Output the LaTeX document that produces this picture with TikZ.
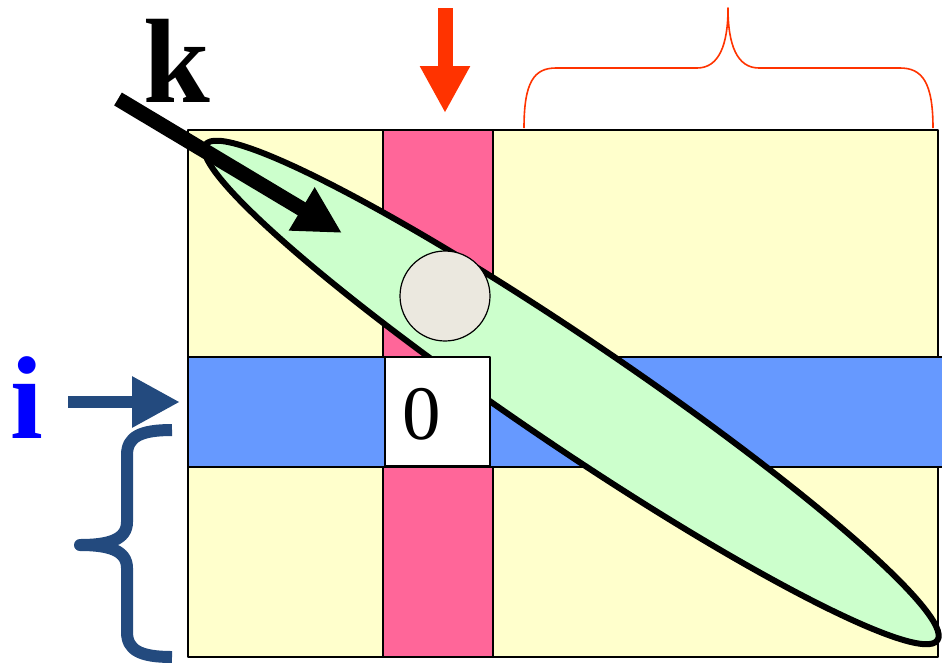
\documentclass[tikz,border=0pt]{standalone}
\usepackage{fontspec}
\setmainfont{Liberation Serif}
\usetikzlibrary{arrows.meta}
\definecolor{padyellow}{HTML}{FFFFCC}
\definecolor{colpink}{HTML}{FF6699}
\definecolor{rowblue}{HTML}{6699FF}
\definecolor{bandgreen}{HTML}{CCFFCC}
\definecolor{pivotgrey}{HTML}{EBE8DF}
\definecolor{markred}{HTML}{FF3300}
\definecolor{markblue}{HTML}{234A7E}
\definecolor{letterblue}{HTML}{0000FF}
\tikzset{
  cell/.style={draw=black,line width=1.3pt},
  fatarrow/.style={line cap=butt,line join=miter,-{Triangle[length=#1,width=#1]}},
}
\begin{document}
\begin{tikzpicture}[line join=round,x=1pt,y=-1pt]
	\useasboundingbox (0,0) rectangle (942,662);
	\coordinate (NW) at (188,130);
	\coordinate (SE) at (938,657);
	\coordinate (E) at (571.5,392.5); % centre of the band
	\coordinate (P) at (445,296); % pivot
	\coordinate (ktail) at (118,99);
	\coordinate (ktip) at (342,233);
	\coordinate (rtail) at (445,8);
	\coordinate (rtip) at (445,113);
	\coordinate (itail) at (68,402);
	\coordinate (itip) at (180,402);
	
	% matrix, column and row
	\draw[cell,fill=padyellow] (NW) rectangle (SE);
	\draw[cell,fill=colpink] (383,130) rectangle (493,657);
	\draw[cell,fill=rowblue] (188,357) rectangle (944,467);
	
	% band along the diagonal
	\draw[line width=6pt,fill=bandgreen,rotate around={-34.1:(E)}] (E) ellipse [x radius=442,y radius=53.5];
	
	\draw[cell,fill=white] (385,357) rectangle (490,466);
	\node[anchor=base,font=\fontsize{77}{77}\selectfont] (zero) at (422,439) {0};
	\draw[line width=1.2pt,fill=pivotgrey] (P) circle (45);
	
	% arrows
	\draw[fatarrow=47pt,line width=15pt] (ktail) -- (ktip);
	\draw[fatarrow=47pt,line width=15pt,markred] (rtail) -- (rtip);
	\draw[fatarrow=48pt,line width=12pt,markblue] (itail) -- (itip);
	
	\node[anchor=base,font=\fontsize{120}{120}\selectfont\bfseries] (k) at (177,102) {k};
	\node[anchor=base,font=\fontsize{118}{118}\selectfont\bfseries,text=letterblue] (i) at (27,438) {i};
	
	% braces
	\draw[markred,line width=1.6pt] (524,128) .. controls (524,82) and (534,68) .. (556,68) -- (697,68)
		.. controls (719,68) and (728,45) .. (728,8)
		.. controls (728,45) and (737,68) .. (759,68) -- (900,68)
		.. controls (922,68) and (933,82) .. (933,128);
	\draw[markblue,line width=12pt,line cap=butt] (172,430) .. controls (140,430) and (127,437) .. (127,455) -- (127,522)
		.. controls (127,540) and (108,545) .. (80,545)
		.. controls (108,545) and (127,550) .. (127,568) -- (127,632)
		.. controls (127,650) and (140,657) .. (172,657);
\end{tikzpicture}
\end{document}
